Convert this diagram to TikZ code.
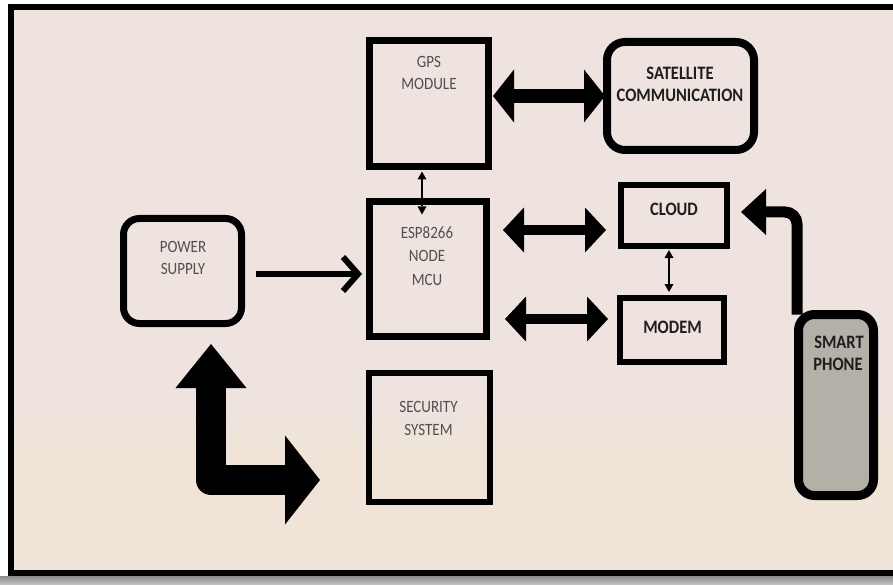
\documentclass[tikz,border=0pt]{standalone}
\usepackage{graphicx}
\usepackage{fontspec}
\setmainfont{Carlito}
\usetikzlibrary{arrows.meta}
\definecolor{bgtop}{HTML}{EEE3DF}
\definecolor{bgbot}{HTML}{EFE4D7}
\definecolor{phonegray}{HTML}{B5B0A7}
\definecolor{txtgray}{HTML}{505050}
\definecolor{txtdark}{HTML}{1E1E1E}
\newcommand{\tall}[1]{\scalebox{1}[1.15]{#1}}
\begin{document}
\begin{tikzpicture}[x=1pt,y=-1pt,
  box/.style={draw=black, line width=7pt, inner sep=0pt, outer sep=0pt},
  rbox/.style={box, rounded corners=16pt},
  lite/.style={font=\fontsize{15}{18}\selectfont, text=txtgray, inner sep=0pt, anchor=base},
  boldt/.style={font=\fontsize{16.5}{20}\selectfont\bfseries, text=txtdark, inner sep=0pt, anchor=base},
  bigdbl/.style={line width=14pt, {Triangle[length=21pt,width=53pt,line width=0pt]}-{Triangle[length=21pt,width=53pt,line width=0pt]}},
  middbl/.style={line width=10pt, {Triangle[length=21pt,width=45pt,line width=0pt]}-{Triangle[length=21pt,width=45pt,line width=0pt]}},
  thindbl/.style={line width=1.8pt, {Triangle[length=8pt,width=9pt,line width=0pt]}-{Triangle[length=8pt,width=9pt,line width=0pt]}},
  feed/.style={line width=6pt, -{Straight Barb[length=15pt,width=34pt]}},
  pharrow/.style={line width=11pt, rounded corners=12pt, -{Triangle[length=25pt,width=46pt,line width=0pt]}},
  larrow/.style={line width=30pt, line join=round, {Triangle[length=44pt,width=71pt,line width=0pt]}-{Triangle[length=35pt,width=89pt,line width=0pt]}}
]
\useasboundingbox (0,0) rectangle (893,585);
% background and frame
\fill[white] (0,0) rectangle (893,585);
\fill[bgtop] (10,7) rectangle (893,400);
\shade[top color=bgtop, bottom color=bgbot] (10,399) rectangle (893,451);
\fill[bgbot] (10,450) rectangle (893,573);
\shade[top color=black!45, bottom color=black!22] (0,576) rectangle (893,585);
\draw[line width=6pt] (10.5,7) rectangle (900,573);

% blocks
\node[box, minimum width=119pt, minimum height=126pt] (gps) at (429,103.5) {};
\node[rbox, line width=8pt, rounded corners=18pt, minimum width=147pt, minimum height=108pt] (sat) at (680.5,96) {};
\node[box, minimum width=117pt, minimum height=135pt] (esp) at (428,269) {};
\node[rbox, minimum width=118pt, minimum height=105pt] (ps) at (182.5,271) {};
\node[box, line width=6pt, minimum width=106pt, minimum height=61pt] (cloud) at (674,215.5) {};
\node[box, line width=6pt, minimum width=104pt, minimum height=64pt] (modem) at (672,330) {};
\node[box, line width=6pt, minimum width=121pt, minimum height=129pt] (sec) at (429.5,437.5) {};
\node[rbox, line width=9pt, fill=phonegray, minimum width=75pt, minimum height=181pt] (phone) at (836,405) {};

% texts
\node[lite] (gps1) at (429,68) {\tall{GPS}};
\node[lite] (gps2) at (429,90) {\tall{MODULE}};
\node[boldt] (sat1) at (680,80) {\tall{SATELLITE}};
\node[boldt] (sat2) at (680,102) {\tall{COMMUNICATION}};
\node[lite] (esp1) at (427,238) {\tall{ESP8266}};
\node[lite] (esp2) at (427,261.5) {\tall{NODE}};
\node[lite] (esp3) at (427,285) {\tall{MCU}};
\node[lite] (ps1) at (183,252) {\tall{POWER}};
\node[lite] (ps2) at (183,274) {\tall{SUPPLY}};
\node[boldt] (cl1) at (674,216) {\tall{CLOUD}};
\node[boldt] (mo1) at (672.5,333) {\tall{MODEM}};
\node[boldt] (ph1) at (839,348) {\tall{SMART}};
\node[boldt] (ph2) at (838,370) {\tall{PHONE}};
\node[lite] (se1) at (428.5,412) {\tall{SECURITY}};
\node[lite] (se2) at (428.5,435) {\tall{SYSTEM}};

% connectors
\draw[bigdbl, shorten <=4.5pt, shorten >=2pt] (gps.east |- 0,96) -- (sat.west |- 0,96);
\draw[middbl, shorten <=16.5pt, shorten >=15pt] (esp.east |- 0,230) -- (cloud.west |- 0,230);
\draw[middbl, shorten <=18.5pt, shorten >=12pt] (esp.east |- 0,319) -- (modem.west |- 0,319);
\draw[thindbl, shorten <=5pt, shorten >=-13pt] (gps.south -| 422,0) -- (esp.north -| 422,0);
\draw[thindbl, shorten <=4pt, shorten >=6pt] (cloud.south -| 669,0) -- (modem.north -| 669,0);
\draw[feed, shorten <=14.5pt, shorten >=7.5pt] (ps.east |- 0,274) -- (esp.west |- 0,274);
\draw[pharrow, shorten >=14pt] (phone.north -| 797,0) |- (cloud.east |- 0,212);
\coordinate (ltop) at (211,344);
\coordinate (lend) at (320,480);
\draw[larrow] (ltop) |- (lend);
\end{tikzpicture}
\end{document}
